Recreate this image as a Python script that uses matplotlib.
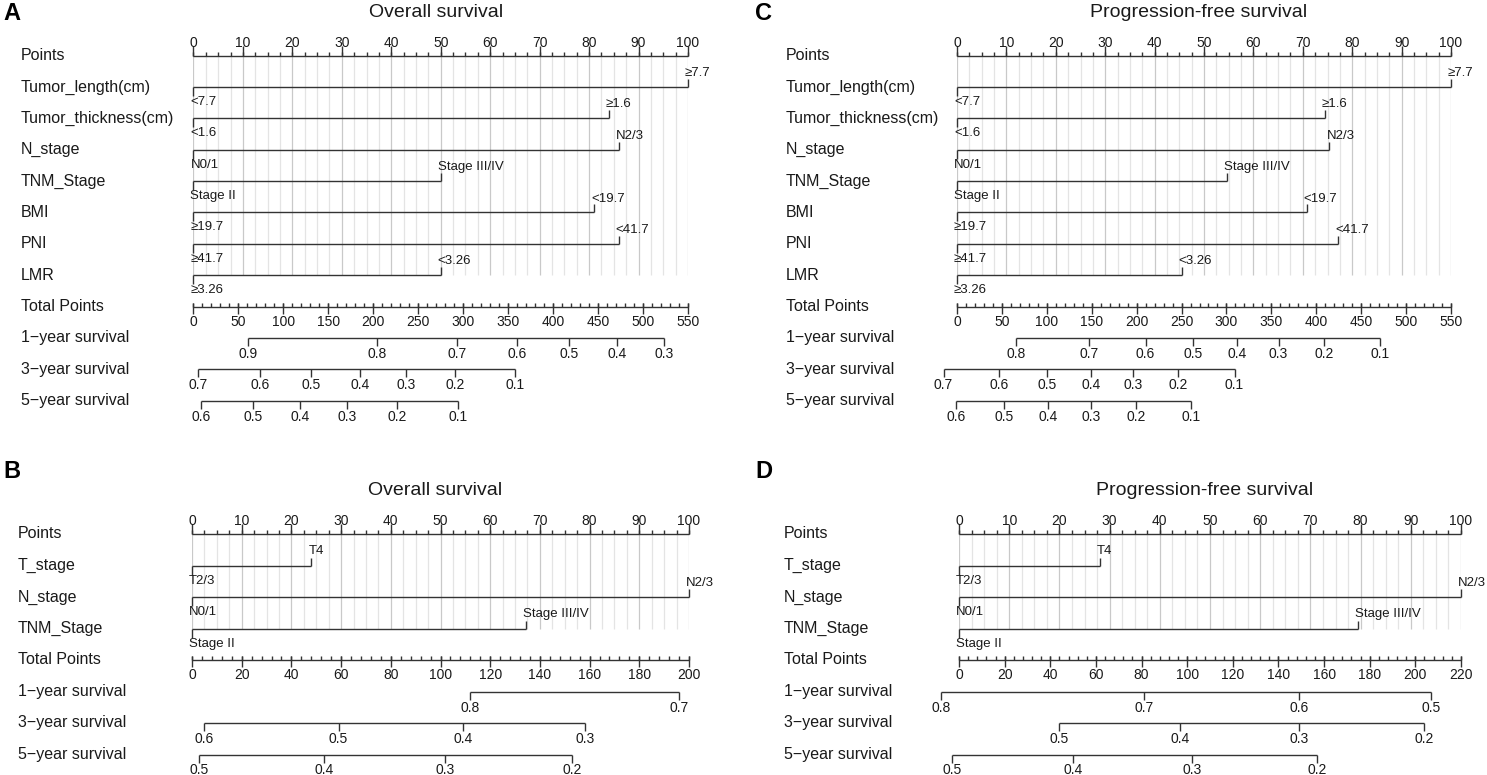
import numpy as np
import matplotlib
matplotlib.use("Agg")
import matplotlib.pyplot as plt
from matplotlib.transforms import blended_transform_factory, offset_copy

plt.rcParams['font.family'] = ['Liberation Sans', 'DejaVu Sans']
plt.rcParams['text.color'] = '#1a1a1a'

# ---------------- data ----------------
surv_rows = ["1\u2212year survival", "3\u2212year survival", "5\u2212year survival"]

# Panel A: Overall survival (full model)
a_vars = ["Tumor_length(cm)", "Tumor_thickness(cm)", "N_stage", "TNM_Stage", "BMI", "PNI", "LMR"]
a_low = ["<7.7", "<1.6", "N0/1", "Stage II", "\u226519.7", "\u226541.7", "\u22653.26"]
a_high = ["\u22657.7", "\u22651.6", "N2/3", "Stage III/IV", "<19.7", "<41.7", "<3.26"]
a_points = [100, 84, 86, 50, 81, 86, 50]
a_total_max = 550
a_1y_prob = [0.9, 0.8, 0.7, 0.6, 0.5, 0.4, 0.3]
a_1y_total = [61, 204, 293, 360, 418, 471, 523]
a_3y_prob = [0.7, 0.6, 0.5, 0.4, 0.3, 0.2, 0.1]
a_3y_total = [5, 74, 131, 185, 236, 291, 358]
a_5y_prob = [0.6, 0.5, 0.4, 0.3, 0.2, 0.1]
a_5y_total = [8, 66, 119, 171, 226, 294]

# Panel C: Progression-free survival (full model)
c_vars = a_vars
c_low = a_low
c_high = a_high
c_points = [100, 74.5, 75.4, 54.7, 70.8, 77.2, 45.5]
c_total_max = 550
c_1y_prob = [0.8, 0.7, 0.6, 0.5, 0.4, 0.3, 0.2, 0.1]
c_1y_total = [66, 147, 210, 263, 312, 358, 409, 471]
c_3y_prob = [0.7, 0.6, 0.5, 0.4, 0.3, 0.2, 0.1]
c_3y_total = [-15, 47, 100, 149, 196, 246, 309]
c_5y_prob = [0.6, 0.5, 0.4, 0.3, 0.2, 0.1]
c_5y_total = [-1, 52, 101, 149, 199, 261]

# Panel B: Overall survival (reduced model)
b_vars = ["T_stage", "N_stage", "TNM_Stage"]
b_low = ["T2/3", "N0/1", "Stage II"]
b_high = ["T4", "N2/3", "Stage III/IV"]
b_points = [24, 100, 67.3]
b_total_max = 200
b_1y_prob = [0.8, 0.7]
b_1y_total = [112, 196]
b_3y_prob = [0.6, 0.5, 0.4, 0.3]
b_3y_total = [5, 59, 109, 158]
b_5y_prob = [0.5, 0.4, 0.3, 0.2]
b_5y_total = [3, 53, 102, 153]

# Panel D: Progression-free survival (reduced model)
d_vars = b_vars
d_low = b_low
d_high = b_high
d_points = [28, 100, 79.4]
d_total_max = 220
d_1y_prob = [0.8, 0.7, 0.6, 0.5]
d_1y_total = [-8, 81, 149, 207]
d_3y_prob = [0.5, 0.4, 0.3, 0.2]
d_3y_total = [44, 97, 149, 204]
d_5y_prob = [0.5, 0.4, 0.3, 0.2]
d_5y_total = [-3, 50, 102, 157]

# ---------------- drawing ----------------
W, H = 1487, 775
fig = plt.figure(figsize=(W / 100, H / 100), dpi=100)
fig.patch.set_facecolor('white')

LC = '#333333'
F_ROW = 11.5
F_TICK = 10
F_LEV = 9.5
F_TITLE = 14


def draw_panel(x0, x1, y_top, row_px, letter, letter_xy, title, label_x,
               variables, low, high, pts, total_max, total_major, total_minor,
               surv_probs, surv_totals):
    nv = len(variables)
    nrows = 1 + nv + 1 + len(surv_probs)
    y_bot = y_top + (nrows - 1) * row_px
    ax = fig.add_axes([x0 / W, 1 - y_bot / H, (x1 - x0) / W, (y_bot - y_top) / H])
    ax.set_xlim(0, 100)
    ax.set_ylim(nrows - 1, 0)
    ax.axis('off')
    px_x = (x1 - x0) / 100.0

    def dy(p):
        return p / row_px

    def dx(p):
        return p / px_x

    kw = dict(colors=LC, lw=1.0, clip_on=False)
    lab_tr = blended_transform_factory(fig.transFigure, ax.transData)
    lev_tr = offset_copy(ax.transData, fig=fig, x=-3, y=0, units='dots')

    # grid
    grid = np.arange(0, 100.01, 2.5)
    gcol = ['#c9c9c9' if g % 10 == 0 else '#e4e4e4' for g in grid]
    ax.vlines(grid, 0, nv, colors=gcol, lw=0.9, zorder=0)

    # Points axis
    ax.text(label_x / W, 0, "Points", transform=lab_tr, ha='left', va='center', fontsize=F_ROW)
    ax.hlines(0, 0, 100, **kw)
    ax.vlines(np.arange(0, 100.01, 2.5), 0, -dy(4), **kw)
    major = np.arange(0, 100.01, 10)
    ax.vlines(major, 0, -dy(10), **kw)
    for m in major:
        ax.text(m, -dy(9), f"{m:g}", ha='center', va='baseline', fontsize=F_TICK)

    # variables
    for i, (name, lo, hi, p) in enumerate(zip(variables, low, high, pts), start=1):
        ax.text(label_x / W, i, name, transform=lab_tr, ha='left', va='center', fontsize=F_ROW)
        ax.hlines(i, 0, p, **kw)
        ax.vlines(0, i, i + dy(9), **kw)
        ax.vlines(p, i, i - dy(8), **kw)
        ax.text(0, i + dy(15), lo, transform=lev_tr, ha='left', va='center', fontsize=F_LEV)
        ax.text(p, i - dy(14), hi, transform=lev_tr, ha='left', va='center', fontsize=F_LEV)

    # Total points axis
    rt = nv + 1
    ax.text(label_x / W, rt, "Total Points", transform=lab_tr, ha='left', va='center', fontsize=F_ROW)
    ax.hlines(rt, 0, 100, **kw)
    tmin = np.arange(0, total_max + 0.01, total_minor) * 100.0 / total_max
    ax.vlines(tmin, rt, rt - dy(4), **kw)
    tmaj_vals = np.arange(0, total_max + 0.01, total_major)
    tmaj = tmaj_vals * 100.0 / total_max
    ax.vlines(tmaj, rt - dy(4), rt + dy(7), **kw)
    for v, xx in zip(tmaj_vals, tmaj):
        ax.text(xx, rt + dy(15), f"{v:g}", ha='center', va='center', fontsize=F_TICK)

    # survival axes
    for k, (probs, totals) in enumerate(zip(surv_probs, surv_totals)):
        r = nv + 2 + k
        ax.text(label_x / W, r, surv_rows[k], transform=lab_tr, ha='left', va='center', fontsize=F_ROW)
        xs = np.asarray(totals, dtype=float) * 100.0 / total_max
        ax.hlines(r, xs.min(), xs.max(), **kw)
        ax.vlines(xs, r, r + dy(8), **kw)
        for pr, xx in zip(probs, xs):
            ax.text(xx, r + dy(16), f"{pr:g}", ha='center', va='center', fontsize=F_TICK)

    # title and panel letter
    ax.text(50 - dx(5), -dy(43), title, ha='center', va='center', fontsize=F_TITLE)
    fig.text(letter_xy[0] / W, 1 - letter_xy[1] / H, letter, fontsize=17,
             fontweight='bold', ha='left', va='center', color='black')


draw_panel(193.5, 688, 55.7, 31.36, 'A', (3, 14), "Overall survival", 21,
           a_vars, a_low, a_high, a_points, a_total_max, 50, 10,
           [a_1y_prob, a_3y_prob, a_5y_prob], [a_1y_total, a_3y_total, a_5y_total])

draw_panel(957, 1451, 55.7, 31.36, 'C', (755, 14), "Progression-free survival", 786,
           c_vars, c_low, c_high, c_points, c_total_max, 50, 10,
           [c_1y_prob, c_3y_prob, c_5y_prob], [c_1y_total, c_3y_total, c_5y_total])

draw_panel(192, 689, 534, 31.5, 'B', (3, 471), "Overall survival", 18,
           b_vars, b_low, b_high, b_points, b_total_max, 20, 4,
           [b_1y_prob, b_3y_prob, b_5y_prob], [b_1y_total, b_3y_total, b_5y_total])

draw_panel(959, 1461, 534, 31.5, 'D', (755, 471), "Progression-free survival", 784,
           d_vars, d_low, d_high, d_points, d_total_max, 20, 4,
           [d_1y_prob, d_3y_prob, d_5y_prob], [d_1y_total, d_3y_total, d_5y_total])

fig.savefig("out.png", dpi=100, facecolor='white')
